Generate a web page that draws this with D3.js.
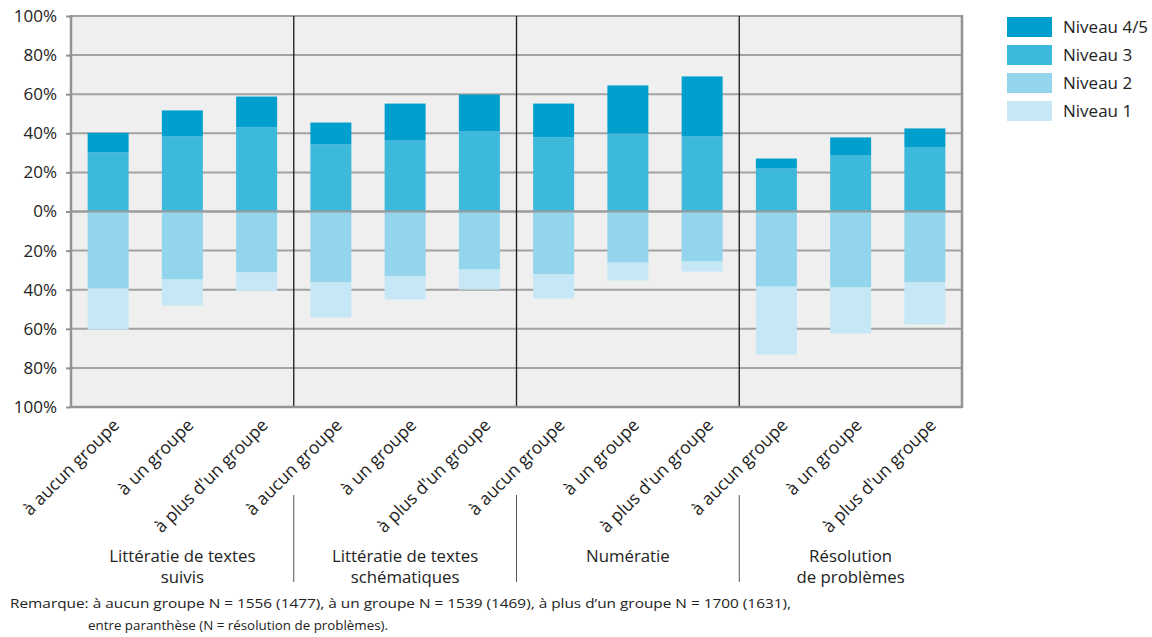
<!DOCTYPE html>
<html>
<head>
<meta charset="utf-8">
<script src="https://cdn.jsdelivr.net/npm/d3@7"></script>
<style>
  html, body { margin: 0; padding: 0; background: #ffffff; }
  svg { display: block; font-family: "Open Sans", "DejaVu Sans", sans-serif; }
</style>
</head>
<body>
<svg id="chart" width="1152" height="637"></svg>
<script>
// Participation categories (x axis), grouped by skill domain
const categories = [
  "à aucun groupe", "à un groupe", "à plus d'un groupe",
  "à aucun groupe", "à un groupe", "à plus d'un groupe",
  "à aucun groupe", "à un groupe", "à plus d'un groupe",
  "à aucun groupe", "à un groupe", "à plus d'un groupe"
];
const domains = [
  ["Littératie de textes", "suivis"],
  ["Littératie de textes", "schématiques"],
  ["Numératie"],
  ["Résolution", "de problèmes"]
];

// Share of adults per proficiency level (%), above the line: levels 3 and 4/5,
// below the line: levels 2 and 1
const niveau45 = [10.0, 13.3, 15.8, 11.2, 18.9, 18.9, 17.3, 24.6, 30.7, 5.1, 9.3, 9.8];
const niveau3  = [30.2, 38.4, 43.0, 34.3, 36.3, 40.9, 37.9, 39.9, 38.4, 22.0, 28.6, 32.7];
const niveau2  = [39.4, 34.8, 31.2, 36.3, 33.2, 29.7, 32.2, 26.1, 25.6, 38.4, 38.9, 36.3];
const niveau1  = [21.0, 13.3, 9.6, 17.9, 11.8, 10.2, 12.3, 9.2, 5.1, 34.7, 23.5, 21.5];

const yTicks = [-100, -80, -60, -40, -20, 0, 20, 40, 60, 80, 100];
const legendLabels = ["Niveau 4/5", "Niveau 3", "Niveau 2", "Niveau 1"];
const note = [
  "Remarque: à aucun groupe N = 1556 (1477), à un groupe N = 1539 (1469), à plus d’un groupe N = 1700 (1631),",
  "entre paranthèse (N = résolution de problèmes)."
];

const colors = { n45: "#009fcd", n3: "#3db9dc", n2: "#93d5ec", n1: "#c6e8f6" };

const svg = d3.select("#chart");
const plot = { left: 71, right: 962, top: 16, bottom: 407 };

const x = d3.scaleBand()
  .domain(d3.range(categories.length))
  .range([plot.left, plot.right])
  .paddingInner(0.448)
  .paddingOuter(0.224);

const y = d3.scaleLinear().domain([-100, 100]).range([plot.bottom, plot.top]);

const rows = categories.map((c, i) => ({
  i,
  n3: niveau3[i],
  n45: niveau45[i],
  n2: -niveau2[i],
  n1: -niveau1[i]
}));

const series = d3.stack()
  .keys(["n3", "n45", "n2", "n1"])
  .offset(d3.stackOffsetDiverging)(rows);

// plot background
svg.append("rect")
  .attr("x", plot.left).attr("y", plot.top)
  .attr("width", plot.right - plot.left).attr("height", plot.bottom - plot.top)
  .attr("fill", "#eeefee");

// horizontal gridlines
svg.append("g")
  .selectAll("line")
  .data(yTicks)
  .join("line")
  .attr("x1", plot.left).attr("x2", plot.right)
  .attr("y1", d => y(d)).attr("y2", d => y(d))
  .attr("stroke", "#a2a2a2")
  .attr("stroke-width", 2);

// stacked bars
svg.append("g")
  .selectAll("g")
  .data(series)
  .join("g")
  .attr("fill", s => colors[s.key])
  .selectAll("rect")
  .data(s => s)
  .join("rect")
  .attr("x", d => x(d.data.i))
  .attr("width", x.bandwidth())
  .attr("y", d => y(Math.max(d[0], d[1])))
  .attr("height", d => Math.abs(y(d[0]) - y(d[1])));

// zero line drawn over the bars
svg.append("line")
  .attr("x1", plot.left).attr("x2", plot.right)
  .attr("y1", y(0)).attr("y2", y(0))
  .attr("stroke", "#9a9a9a")
  .attr("stroke-width", 2);

// domain separators
const groupW = (plot.right - plot.left) / domains.length;
const seps = d3.range(1, domains.length).map(k => plot.left + k * groupW);
svg.append("g")
  .selectAll("line")
  .data(seps)
  .join("line")
  .attr("x1", d => d).attr("x2", d => d)
  .attr("y1", plot.top).attr("y2", plot.bottom)
  .attr("stroke", "#1a1a1a")
  .attr("stroke-width", 1.3);

svg.append("g")
  .selectAll("line")
  .data(seps)
  .join("line")
  .attr("x1", d => d).attr("x2", d => d)
  .attr("y1", 495).attr("y2", 582)
  .attr("stroke", "#555")
  .attr("stroke-width", 1);

// left and right frame + bottom edge
[plot.left, plot.right].forEach(px => {
  svg.append("line")
    .attr("x1", px).attr("x2", px)
    .attr("y1", plot.top - 1).attr("y2", plot.bottom + 1)
    .attr("stroke", "#939393")
    .attr("stroke-width", 2.5);
});
svg.append("line")
  .attr("x1", plot.left).attr("x2", plot.right)
  .attr("y1", plot.bottom).attr("y2", plot.bottom)
  .attr("stroke", "#939393").attr("stroke-width", 2.5);

// y axis
const yAxis = d3.axisLeft(y)
  .tickValues(yTicks)
  .tickSize(5)
  .tickPadding(9)
  .tickFormat(d => Math.abs(d) + "%");
const gy = svg.append("g").attr("transform", `translate(${plot.left},0)`).call(yAxis);
gy.select(".domain").remove();
gy.selectAll(".tick line").attr("stroke", "#939393").attr("stroke-width", 2);
gy.selectAll(".tick text")
  .attr("fill", "#222")
  .style("font-size", "17px")
  .style("font-family", "'Open Sans', sans-serif");

// rotated category labels
svg.append("g")
  .selectAll("text")
  .data(categories)
  .join("text")
  .attr("transform", (d, i) => `translate(${x(i) + x.bandwidth() / 2 + 8},${plot.bottom + 15}) rotate(-45)`)
  .attr("text-anchor", "end")
  .attr("dy", "0.35em")
  .attr("fill", "#222")
  .style("font-size", "17.5px")
  .text(d => d);

// domain labels
const dl = svg.append("g")
  .selectAll("text")
  .data(domains)
  .join("text")
  .attr("x", (d, k) => plot.left + (k + 0.5) * groupW)
  .attr("y", 562)
  .attr("text-anchor", "middle")
  .attr("fill", "#222")
  .style("font-size", "16.8px");
dl.selectAll("tspan")
  .data(d => d)
  .join("tspan")
  .attr("x", function () { return d3.select(this.parentNode).attr("x"); })
  .attr("dy", (d, j) => j === 0 ? 0 : 21)
  .text(d => d);

// legend
const legend = svg.append("g")
  .selectAll("g")
  .data(legendLabels)
  .join("g")
  .attr("transform", (d, i) => `translate(1007,${17 + i * 28})`);
legend.append("rect")
  .attr("width", 45).attr("height", 20)
  .attr("fill", (d, i) => [colors.n45, colors.n3, colors.n2, colors.n1][i]);
legend.append("text")
  .attr("x", 56).attr("y", 10).attr("dy", "0.35em")
  .attr("fill", "#222")
  .style("font-size", "17px")
  .text(d => d);

// note
svg.append("text")
  .attr("x", 10).attr("y", 608)
  .attr("fill", "#222")
  .attr("textLength", 781)
  .attr("lengthAdjust", "spacingAndGlyphs")
  .style("font-size", "13.5px")
  .text(note[0]);
svg.append("text")
  .attr("x", 88).attr("y", 630)
  .attr("fill", "#222")
  .attr("textLength", 300)
  .attr("lengthAdjust", "spacingAndGlyphs")
  .style("font-size", "13.5px")
  .text(note[1]);
</script>
</body>
</html>
